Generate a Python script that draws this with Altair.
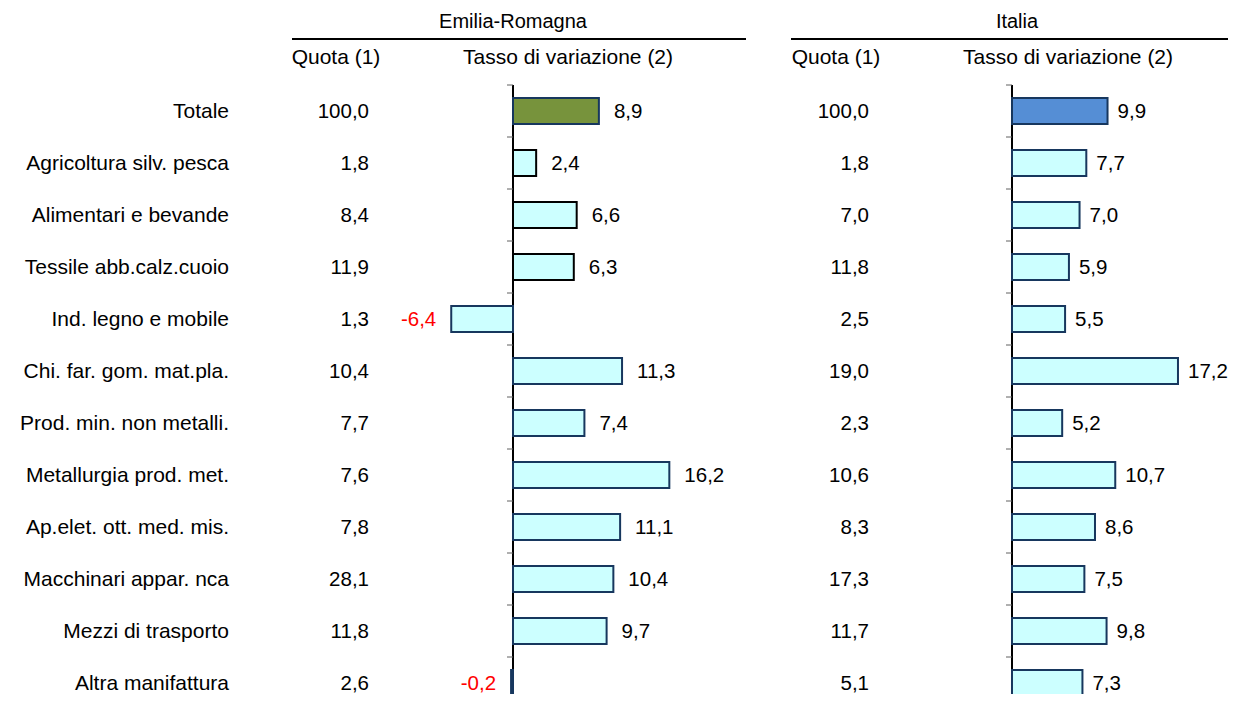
import altair as alt
import pandas as pd

FONT = "Liberation Sans"

categories = [
    "Totale",
    "Agricoltura silv. pesca",
    "Alimentari e bevande",
    "Tessile abb.calz.cuoio",
    "Ind. legno e mobile",
    "Chi. far. gom. mat.pla.",
    "Prod. min. non metalli.",
    "Metallurgia prod. met.",
    "Ap.elet. ott. med. mis.",
    "Macchinari appar. nca",
    "Mezzi di trasporto",
    "Altra manifattura",
]
quota_er = [100.0, 1.8, 8.4, 11.9, 1.3, 10.4, 7.7, 7.6, 7.8, 28.1, 11.8, 2.6]
var_er = [8.9, 2.4, 6.6, 6.3, -6.4, 11.3, 7.4, 16.2, 11.1, 10.4, 9.7, -0.2]
quota_it = [100.0, 1.8, 7.0, 11.8, 2.5, 19.0, 2.3, 10.6, 8.3, 17.3, 11.7, 5.1]
var_it = [9.9, 7.7, 7.0, 5.9, 5.5, 17.2, 5.2, 10.7, 8.6, 7.5, 9.8, 7.3]


def it_fmt(v):
    return f"{v:.1f}".replace(".", ",")


df = pd.DataFrame({
    "i": list(range(len(categories))),
    "cat": categories,
    "q_er": quota_er,
    "v_er": var_er,
    "q_it": quota_it,
    "v_it": var_it,
})
for c in ["q_er", "v_er", "q_it", "v_it"]:
    df[c + "_l"] = df[c].map(it_fmt)
df["z"] = 0.0

base = alt.Chart(df)
one = alt.Data(values=[{}])

y_scale = alt.Scale(domain=categories, range=[77, 701], paddingInner=0, paddingOuter=0)
y_plain = alt.Y("cat:N", scale=y_scale, axis=None)

NAVY = "#17375E"
CYAN = "#CCFFFF"
NUM = 20.5

# ---- row labels and quota columns ----
row_labels = base.mark_text(align="right", baseline="middle", dy=1, fontSize=21, font=FONT, color="black").encode(
    x=alt.value(221), y=y_plain, text="cat:N")
quota_er_t = base.mark_text(align="right", baseline="middle", dy=1, fontSize=NUM, font=FONT, color="black").encode(
    x=alt.value(361), y=y_plain, text="q_er_l:N")
quota_it_t = base.mark_text(align="right", baseline="middle", dy=1, fontSize=NUM, font=FONT, color="black").encode(
    x=alt.value(861), y=y_plain, text="q_it_l:N")


def panel(field, label_field, scale, fill_hi, stroke_enc, neg, dx):
    x = alt.X(f"{field}:Q", scale=scale, axis=None)
    xz = alt.X("z:Q", scale=scale, axis=None)
    axis_line = base.mark_rule(color="#000000", strokeWidth=1).encode(
        x=xz, y=alt.value(77), y2=alt.value(701))
    ticks = base.mark_rule(color="#606060", strokeWidth=1, x2Offset=-6, yOffset=-26, y2Offset=-26).encode(
        x=xz, x2="z:Q", y=y_plain)
    bars = base.mark_bar(size=26, strokeWidth=2).encode(
        x=x, y=y_plain,
        fill=alt.condition("datum.i == 0", alt.value(fill_hi), alt.value(CYAN)),
        stroke=stroke_enc,
    )
    pos = base.transform_filter(f"datum.{field} >= 0").mark_text(
        align="left", baseline="middle", dx=dx, dy=1, fontSize=NUM, font=FONT, color="black").encode(
        x=x, y=y_plain, text=f"{label_field}:N")
    layers = [axis_line, ticks, bars, pos]
    if neg:
        layers.append(base.transform_filter(f"datum.{field} < 0").mark_text(
            align="right", baseline="middle", dx=-15, dy=1, fontSize=NUM, font=FONT, color="#FF0000").encode(
            x=x, y=y_plain, text=f"{label_field}:N"))
    return alt.layer(*layers)


er_layer = panel(
    "v_er", "v_er_l",
    alt.Scale(domain=[-10, 20], range=[408.5, 698], nice=False, zero=True),
    "#77933C",
    alt.condition("datum.i >= 1 && datum.i <= 3", alt.value("#000000"), alt.value(NAVY)),
    True, 15,
)
it_layer = panel(
    "v_it", "v_it_l",
    alt.Scale(domain=[0, 20], range=[1004, 1197], nice=False, zero=True),
    "#558ED5",
    alt.value(NAVY),
    False, 10,
)


# ---- headers ----
def header(txt, x, y, size=20):
    return alt.Chart(one).mark_text(
        text=txt, align="center", baseline="middle", fontSize=size, font=FONT, color="black"
    ).encode(x=alt.value(x), y=alt.value(y))


def hline(x1, x2, y):
    return alt.Chart(one).mark_rule(color="black", strokeWidth=2).encode(
        x=alt.value(x1), x2=alt.value(x2), y=alt.value(y))


headers = [
    header("Emilia-Romagna", 505, 14),
    header("Italia", 1009, 14),
    hline(284, 738, 31),
    hline(783, 1220, 31),
    header("Quota (1)", 328, 50, 21),
    header("Tasso di variazione (2)", 560, 50, 21),
    header("Quota (1)", 828, 50, 21),
    header("Tasso di variazione (2)", 1060, 50, 21),
]

chart = alt.layer(
    row_labels, quota_er_t, quota_it_t, er_layer, it_layer, *headers
).resolve_scale(x="independent").properties(
    width=1220, height=686, padding=0,
    autosize=alt.AutoSizeParams(type="none"),
    background="white",
).configure_view(stroke=None)

chart.save("out.html", embed_options={"renderer": "svg", "actions": False})
